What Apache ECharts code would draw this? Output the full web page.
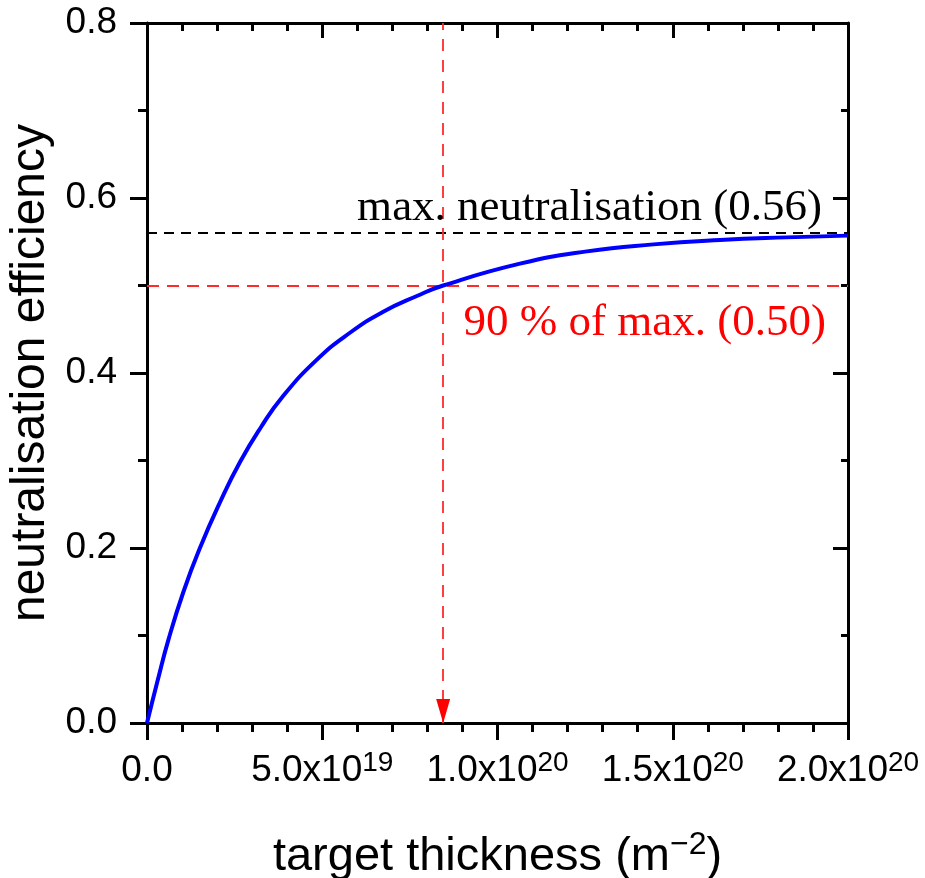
<!DOCTYPE html>
<html>
<head>
<meta charset="utf-8">
<script src="https://cdn.jsdelivr.net/npm/echarts@6/dist/echarts.min.js"></script>
<style>
html,body{margin:0;padding:0;background:#fff;}
#chart{width:925px;height:878px;}
</style>
</head>
<body>
<div id="chart"></div>
<script>
// thickness values in m^-2
const thickness = [0, 0.30e19, 0.61e19, 1.04e19, 1.51e19, 2.08e19, 2.65e19, 3.25e19, 3.85e19, 4.84e19, 5.79e19, 6.74e19, 7.70e19, 8.45e19, 10.64e19, 12.55e19, 14.45e19, 16.35e19, 18.25e19, 20.0e19];
const efficiency = [0, 0.048, 0.095, 0.150, 0.200, 0.252, 0.298, 0.338, 0.372, 0.415, 0.446, 0.470, 0.488, 0.500, 0.525, 0.539, 0.547, 0.552, 0.555, 0.557];
const xTickLabels = ['0.0', '5.0x10|19', '1.0x10|20', '1.5x10|20', '2.0x10|20'];
const yTickLabels = ['0.0', '0.2', '0.4', '0.6', '0.8'];
const maxEff = 0.56;
const ninetyEff = 0.50;
const ninetyX = 8.45e19;
const maxLabel = 'max. neutralisation (0.56)';
const ninetyLabel = '90 % of max. (0.50)';

const chart = echarts.init(document.getElementById('chart'), null, {renderer: 'canvas'});
const sans = 'Liberation Sans, Arial, sans-serif';
const serif = 'Liberation Serif, Times New Roman, serif';

function xLabel(v) {
  const idx = Math.round(v / 5e19);
  const t = xTickLabels[idx];
  if (t === undefined) return '';
  const parts = t.split('|');
  if (parts.length === 1) return '{a|' + parts[0] + '}';
  return '{a|' + parts[0] + '}{b|' + parts[1] + '}';
}
function yLabel(v) {
  const idx = Math.round(v / 0.2);
  return yTickLabels[idx] !== undefined ? yTickLabels[idx] : '';
}

const axisLine = {show: true, onZero: false, lineStyle: {color: '#000', width: 3}};

chart.setOption({
  animation: false,
  backgroundColor: '#fff',
  grid: {left: 147, top: 23, width: 701, height: 700, containLabel: false, outerBoundsMode: 'none'},
  xAxis: [
    {
      type: 'value', min: 0, max: 2e20, interval: 5e19, position: 'bottom',
      axisLine: axisLine,
      axisTick: {show: true, inside: false, length: 17, lineStyle: {color: '#000', width: 3}},
      minorTick: {show: true, splitNumber: 5, length: 9, lineStyle: {color: '#000', width: 3}},
      splitLine: {show: false}, minorSplitLine: {show: false},
      axisLabel: {
        margin: 26, formatter: xLabel, hideOverlap: false,
        rich: {
          a: {fontFamily: sans, fontSize: 37, color: '#000', lineHeight: 44},
          b: {fontFamily: sans, fontSize: 28, color: '#000', verticalAlign: 'top', lineHeight: 26}
        }
      },
      name: '{a|target thickness (m}{b|\u22122}{a|)}',
      nameLocation: 'middle', nameGap: 106,
      nameTextStyle: {
        rich: {
          a: {fontFamily: sans, fontSize: 47, color: '#000', lineHeight: 56},
          b: {fontFamily: sans, fontSize: 32, color: '#000', verticalAlign: 'top', lineHeight: 30}
        }
      }
    },
    {
      type: 'value', min: 0, max: 2e20, interval: 5e19, position: 'top',
      axisLine: axisLine,
      axisTick: {show: true, inside: true, length: 15, lineStyle: {color: '#000', width: 3}},
      minorTick: {show: true, splitNumber: 5, length: 8, lineStyle: {color: '#000', width: 3}},
      splitLine: {show: false}, minorSplitLine: {show: false},
      axisLabel: {show: false}
    }
  ],
  yAxis: [
    {
      type: 'value', min: 0, max: 0.8, interval: 0.2, position: 'left',
      axisLine: axisLine,
      axisTick: {show: true, inside: false, length: 17, lineStyle: {color: '#000', width: 3}},
      minorTick: {show: true, splitNumber: 2, length: 9, lineStyle: {color: '#000', width: 3}},
      splitLine: {show: false}, minorSplitLine: {show: false},
      axisLabel: {margin: 30, formatter: yLabel, fontFamily: sans, fontSize: 37, color: '#000'},
      name: 'neutralisation efficiency',
      nameLocation: 'middle', nameGap: 88,
      nameTextStyle: {fontFamily: sans, fontSize: 48, color: '#000'}
    },
    {
      type: 'value', min: 0, max: 0.8, interval: 0.2, position: 'right',
      axisLine: axisLine,
      axisTick: {show: true, inside: true, length: 15, lineStyle: {color: '#000', width: 3}},
      minorTick: {show: true, splitNumber: 2, length: 7, lineStyle: {color: '#000', width: 3}},
      splitLine: {show: false}, minorSplitLine: {show: false},
      axisLabel: {show: false}
    }
  ],
  series: [
    {
      type: 'line',
      xAxisIndex: 0, yAxisIndex: 0,
      data: thickness.map((x, i) => [x, efficiency[i]]),
      smooth: true,
      showSymbol: false,
      lineStyle: {color: '#0000ff', width: 4},
      z: 5,
      markLine: {
        silent: true,
        symbol: ['none', 'none'],
        animation: false,
        data: [
          {
            yAxis: maxEff,
            lineStyle: {color: '#000', type: [10, 7], width: 1.8},
            label: {
              show: true, position: 'insideEndTop', distance: [26, 2],
              formatter: maxLabel, fontFamily: serif, fontSize: 45, color: '#000'
            }
          },
          {
            yAxis: ninetyEff,
            lineStyle: {color: '#ff2a2a', type: [12, 8], width: 1.8},
            label: {
              show: true, position: 'insideEndBottom', distance: [22, 15],
              formatter: ninetyLabel, fontFamily: serif, fontSize: 45, color: '#ff0000'
            }
          },
          {
            xAxis: ninetyX,
            lineStyle: {color: '#ff2a2a', type: [12, 9], width: 1.8},
            label: {show: false}
          }
        ]
      },
      markPoint: {
        silent: true,
        animation: false,
        data: [
          {
            coord: [ninetyX, 0],
            symbol: 'triangle', symbolSize: [14, 24], symbolRotate: 180,
            symbolOffset: [0, -12],
            itemStyle: {color: '#ff0000'},
            label: {show: false}
          }
        ]
      }
    }
  ]
});
</script>
</body>
</html>
